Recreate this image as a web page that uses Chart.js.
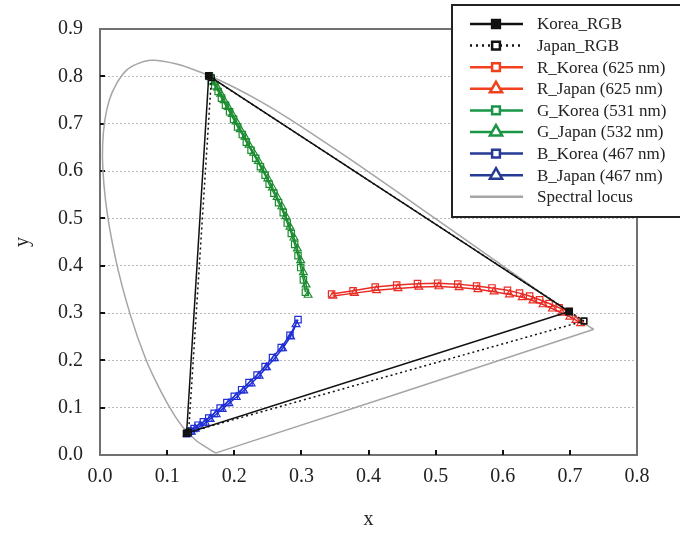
<!DOCTYPE html>
<html>
<head>
<meta charset="utf-8">
<script src="https://cdn.jsdelivr.net/npm/chart.js@4.4.0/dist/chart.umd.min.js"></script>
<style>
  html, body { margin: 0; padding: 0; background: #fff; }
</style>
</head>
<body>
<canvas id="cie" width="680" height="538"></canvas>
<script>
// Triângulos de gamut (vértices R, G, B e volta para R)
var koreaX = [0.699, 0.162, 0.129, 0.699];
var koreaY = [0.303, 0.801, 0.046, 0.303];
var japanX = [0.721, 0.166, 0.132, 0.721];
var japanY = [0.283, 0.797, 0.048, 0.283];

// Curvas R
var rKoreaX = [0.345, 0.377, 0.410, 0.442, 0.473, 0.503, 0.533, 0.561, 0.584, 0.607, 0.625, 0.640, 0.655, 0.669, 0.684, 0.699];
var rKoreaY = [0.340, 0.347, 0.355, 0.359, 0.362, 0.363, 0.361, 0.357, 0.353, 0.348, 0.342, 0.336, 0.328, 0.320, 0.311, 0.303];
var rJapanX = [0.347, 0.379, 0.412, 0.444, 0.475, 0.505, 0.535, 0.563, 0.587, 0.610, 0.629, 0.645, 0.660, 0.674, 0.688, 0.700, 0.709, 0.716];
var rJapanY = [0.336, 0.342, 0.348, 0.352, 0.355, 0.356, 0.354, 0.350, 0.345, 0.339, 0.333, 0.326, 0.318, 0.309, 0.300, 0.292, 0.285, 0.278];

// Curvas G
var gKoreaX = [0.163, 0.166, 0.171, 0.176, 0.181, 0.187, 0.193, 0.199, 0.205, 0.212, 0.218, 0.225, 0.232, 0.239, 0.246, 0.252, 0.259, 0.266, 0.273, 0.279, 0.285, 0.290, 0.295, 0.299, 0.303, 0.306];
var gKoreaY = [0.801, 0.791, 0.780, 0.768, 0.754, 0.739, 0.725, 0.709, 0.693, 0.677, 0.661, 0.644, 0.627, 0.609, 0.591, 0.572, 0.553, 0.533, 0.512, 0.490, 0.468, 0.445, 0.421, 0.396, 0.370, 0.344];
var gJapanX = [0.165, 0.170, 0.175, 0.180, 0.185, 0.191, 0.197, 0.203, 0.209, 0.216, 0.222, 0.229, 0.236, 0.243, 0.250, 0.257, 0.264, 0.271, 0.277, 0.283, 0.289, 0.294, 0.299, 0.303, 0.307, 0.310];
var gJapanY = [0.798, 0.787, 0.776, 0.763, 0.749, 0.735, 0.720, 0.704, 0.688, 0.672, 0.655, 0.638, 0.621, 0.603, 0.584, 0.565, 0.545, 0.525, 0.504, 0.482, 0.459, 0.436, 0.411, 0.386, 0.360, 0.338];

// Curvas B
var bKoreaX = [0.129, 0.134, 0.140, 0.146, 0.154, 0.162, 0.170, 0.179, 0.189, 0.200, 0.211, 0.222, 0.234, 0.246, 0.257, 0.270, 0.283, 0.295];
var bKoreaY = [0.045, 0.050, 0.056, 0.063, 0.070, 0.078, 0.088, 0.099, 0.111, 0.124, 0.138, 0.153, 0.169, 0.187, 0.206, 0.227, 0.253, 0.286];
var bJapanX = [0.130, 0.136, 0.142, 0.149, 0.157, 0.164, 0.173, 0.182, 0.192, 0.203, 0.214, 0.225, 0.237, 0.248, 0.260, 0.272, 0.284, 0.292];
var bJapanY = [0.044, 0.049, 0.055, 0.061, 0.068, 0.076, 0.086, 0.097, 0.109, 0.122, 0.136, 0.151, 0.167, 0.185, 0.204, 0.225, 0.250, 0.276];

// Locus espectral (CIE 1931), fechado pela linha das púrpuras
var locusX = [0.1741, 0.1714, 0.1689, 0.1644, 0.1566, 0.1440, 0.1241, 0.1096, 0.0913, 0.0687, 0.0454, 0.0235, 0.0082, 0.0039, 0.0139, 0.0389, 0.0743, 0.1142, 0.1547, 0.1929, 0.2296, 0.2658, 0.3016, 0.3731, 0.4441, 0.5125, 0.5752, 0.6270, 0.6658, 0.6915, 0.7079, 0.7190, 0.7260, 0.7300, 0.7347, 0.1741];
var locusY = [0.0050, 0.0051, 0.0069, 0.0109, 0.0177, 0.0297, 0.0578, 0.0868, 0.1327, 0.2007, 0.2950, 0.4127, 0.5384, 0.6548, 0.7502, 0.8120, 0.8338, 0.8262, 0.8059, 0.7816, 0.7543, 0.7243, 0.6923, 0.6245, 0.5547, 0.4866, 0.4242, 0.3725, 0.3340, 0.3083, 0.2920, 0.2809, 0.2740, 0.2700, 0.2653, 0.0050];

var xTicks = [0.1, 0.2, 0.3, 0.4, 0.5, 0.6, 0.7];
var yTicks = [0.1, 0.2, 0.3, 0.4, 0.5, 0.6, 0.7, 0.8];

var RED = 'rgb(232, 44, 36)';
var GREEN = 'rgb(28, 140, 48)';
var BLUE = 'rgb(32, 46, 214)';
var SERIF = '"Liberation Serif", "Times New Roman", serif';

function pts(xs, ys) {
  return xs.map(function (x, i) { return { x: x, y: ys[i] }; });
}

function serie(label, xs, ys, color, style, extra) {
  var d = {
    label: label,
    data: pts(xs, ys),
    showLine: true,
    borderColor: color,
    legendColor: color,
    borderWidth: 1.5,
    pointStyle: style,
    pointRadius: 4.5,
    pointBorderColor: color,
    pointBackgroundColor: 'rgba(0,0,0,0)',
    pointBorderWidth: 1.2,
    tension: 0
  };
  for (var k in extra) d[k] = extra[k];
  return d;
}

// Moldura do gráfico e ticks para dentro
var framePlugin = {
  id: 'frame',
  beforeDatasetsDraw: function (chart) {
    var ctx = chart.ctx, a = chart.chartArea;
    var sx = chart.scales.x, sy = chart.scales.y;
    ctx.save();
    ctx.strokeStyle = '#707070';
    ctx.lineWidth = 2;
    ctx.strokeRect(a.left, a.top, a.right - a.left, a.bottom - a.top);
    ctx.strokeStyle = '#111';
    ctx.lineWidth = 2;
    ctx.beginPath();
    yTicks.forEach(function (v) {
      var py = Math.round(sy.getPixelForValue(v));
      ctx.moveTo(a.left, py); ctx.lineTo(a.left + 5, py);
    });
    xTicks.forEach(function (v) {
      var px = Math.round(sx.getPixelForValue(v));
      ctx.moveTo(px, a.bottom); ctx.lineTo(px, a.bottom - 5);
    });
    ctx.stroke();
    ctx.restore();
  }
};

// Legenda desenhada dentro do gráfico (canto superior direito, cortada na borda)
var legendPlugin = {
  id: 'boxLegend',
  afterDraw: function (chart) {
    var ctx = chart.ctx;
    var left = 452, top = 5, w = 240, h = 212;
    ctx.save();
    ctx.fillStyle = '#fff';
    ctx.fillRect(left, top, w, h);
    ctx.strokeStyle = '#222';
    ctx.lineWidth = 2;
    ctx.strokeRect(left, top, w, h);
    chart.data.datasets.forEach(function (ds, i) {
      var y = 24 + i * 21.6;
      var col = ds.legendColor;
      ctx.strokeStyle = col;
      ctx.lineWidth = 2.5;
      ctx.setLineDash(ds.borderDash ? [2, 4] : []);
      ctx.beginPath();
      ctx.moveTo(470, y); ctx.lineTo(523, y);
      ctx.stroke();
      ctx.setLineDash([]);
      if (ds.pointStyle && ds.pointRadius > 0) {
        ctx.fillStyle = ds.label === 'Korea_RGB' ? '#111' : '#fff';
        ctx.strokeStyle = col;
        var r = ds.pointStyle === 'triangle' ? 7 : 5.5;
        Chart.helpers.drawPoint(ctx, { pointStyle: ds.pointStyle, radius: r, borderWidth: 2, rotation: 0 }, 496, y);
      }
      ctx.fillStyle = '#222';
      ctx.font = '17px ' + SERIF;
      ctx.textBaseline = 'middle';
      ctx.textAlign = 'left';
      ctx.fillText(ds.label, 537, y + 1);
    });
    ctx.restore();
  }
};

var ctx = document.getElementById('cie').getContext('2d');
var chart = new Chart(ctx, {
  type: 'scatter',
  data: {
    datasets: [
      serie('Korea_RGB', koreaX, koreaY, '#111', 'rect', { pointBackgroundColor: '#111', pointRadius: 4.5 }),
      serie('Japan_RGB', japanX, japanY, '#111', 'rect', { borderDash: [2, 3], pointRadius: 4 }),
      serie('R_Korea (625 nm)', rKoreaX, rKoreaY, RED, 'rect', { legendColor: 'rgb(240, 64, 30)' }),
      serie('R_Japan (625 nm)', rJapanX, rJapanY, RED, 'triangle', { legendColor: 'rgb(240, 64, 30)' }),
      serie('G_Korea (531 nm)', gKoreaX, gKoreaY, GREEN, 'rect', { legendColor: 'rgb(24, 150, 70)' }),
      serie('G_Japan (532 nm)', gJapanX, gJapanY, GREEN, 'triangle', { legendColor: 'rgb(24, 150, 70)' }),
      serie('B_Korea (467 nm)', bKoreaX, bKoreaY, BLUE, 'rect', { legendColor: 'rgb(38, 58, 150)' }),
      serie('B_Japan (467 nm)', bJapanX, bJapanY, BLUE, 'triangle', { legendColor: 'rgb(38, 58, 150)' }),
      serie('Spectral locus', locusX, locusY, 'rgb(165, 165, 165)', false, { pointRadius: 0, tension: 0.3, borderWidth: 1.5 })
    ]
  },
  options: {
    responsive: false,
    animation: false,
    events: [],
    layout: { padding: { left: 0, right: 43, top: 21, bottom: 0 } },
    plugins: {
      legend: { display: false },
      tooltip: { enabled: false }
    },
    scales: {
      x: {
        type: 'linear',
        min: 0, max: 0.8,
        afterFit: function (scale) { scale.height = 83; },
        ticks: {
          stepSize: 0.1,
          padding: 10,
          color: '#222',
          font: { family: SERIF, size: 20 },
          callback: function (v) { return v.toFixed(1); }
        },
        grid: { display: false, drawTicks: false },
        border: { display: false },
        title: { display: true, text: 'x', color: '#222', font: { family: SERIF, size: 20 }, padding: { top: 0, bottom: 6 } }
      },
      y: {
        type: 'linear',
        min: 0, max: 0.9,
        afterFit: function (scale) { scale.width = 100; },
        ticks: {
          stepSize: 0.1,
          padding: 17,
          color: '#222',
          font: { family: SERIF, size: 20 },
          callback: function (v) { return v.toFixed(1); }
        },
        grid: {
          drawTicks: false,
          lineWidth: 1,
          color: function (c) {
            var v = c.tick ? c.tick.value : 0;
            return (v > 0.05 && v < 0.85) ? 'rgb(185, 185, 185)' : 'rgba(0,0,0,0)';
          }
        },
        border: { display: false, dash: [2, 2] },
        title: { display: true, text: 'y', color: '#222', font: { family: SERIF, size: 20 }, padding: { top: 11, bottom: 0 } }
      }
    }
  },
  plugins: [framePlugin, legendPlugin]
});
</script>
</body>
</html>
